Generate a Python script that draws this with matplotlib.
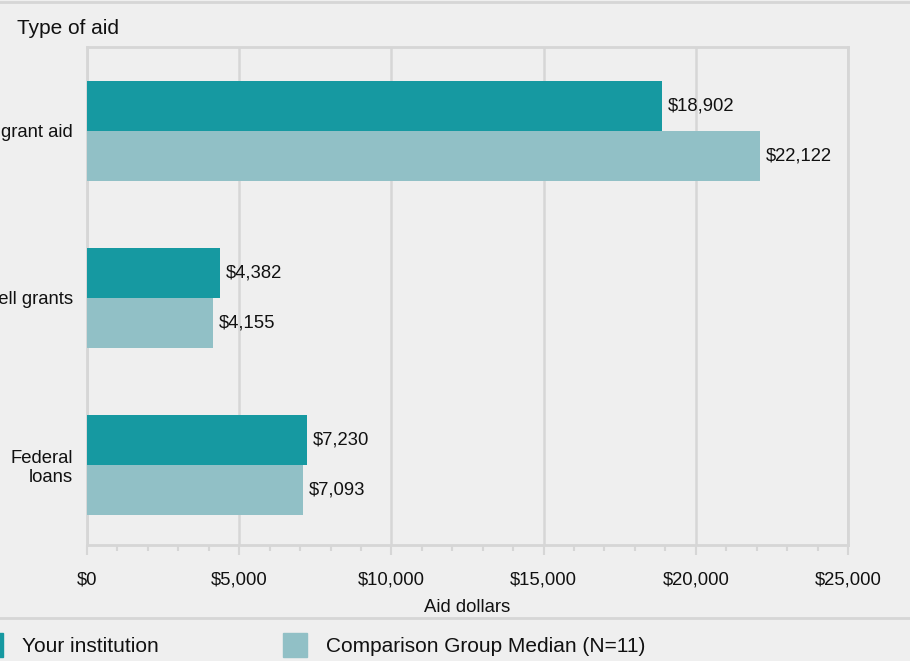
import matplotlib
matplotlib.use("Agg")
import matplotlib.pyplot as plt
import numpy as np
from matplotlib.patches import Rectangle
from matplotlib.ticker import FuncFormatter, MultipleLocator

plt.rcParams["font.family"] = ["Liberation Sans", "DejaVu Sans"]

# data
categories = ["Any grant aid", "Pell grants", "Federal\nloans"]
your_institution = [18902, 4382, 7230]
comparison_median = [22122, 4155, 7093]
series_names = ["Your institution", "Comparison Group Median (N=11)"]

BG = "#efefef"
TEAL = "#1699a1"
LIGHT = "#91c0c6"
GRID = "#d6d6d6"
TEXT = "#111111"

W, H = 910, 661
fig = plt.figure(figsize=(W / 100, H / 100), dpi=100, facecolor=BG)

# plot area in pixels: x 87..848, y 47..545
ax = fig.add_axes([87 / W, 1 - 545 / H, (848 - 87) / W, (545 - 47) / H])
ax.set_facecolor(BG)

y = np.arange(len(categories))
bar_h = 0.30
ax.barh(y - bar_h / 2, your_institution, height=bar_h, color=TEAL, zorder=3)
ax.barh(y + bar_h / 2, comparison_median, height=bar_h, color=LIGHT, zorder=3)

for yi, v in zip(y - bar_h / 2, your_institution):
    ax.annotate(f"${v:,}", (v, yi), xytext=(4, 0), textcoords="offset points",
                va="center", ha="left", fontsize=13.3, color=TEXT)
for yi, v in zip(y + bar_h / 2, comparison_median):
    ax.annotate(f"${v:,}", (v, yi), xytext=(4, 0), textcoords="offset points",
                va="center", ha="left", fontsize=13.3, color=TEXT)

ax.set_xlim(0, 25000)
ax.set_ylim(2.48, -0.503)
ax.xaxis.set_major_locator(MultipleLocator(5000))
ax.xaxis.set_minor_locator(MultipleLocator(1000))
ax.xaxis.set_major_formatter(FuncFormatter(lambda v, p: f"${v:,.0f}"))
ax.tick_params(axis="x", which="major", length=7, width=1.5, color=GRID,
               labelsize=13.3, labelcolor=TEXT, pad=12)
ax.tick_params(axis="x", which="minor", length=4, width=1.5, color=GRID)
ax.set_yticks(y)
ax.set_yticklabels(categories)
ax.tick_params(axis="y", length=0, labelsize=13.3, labelcolor=TEXT, pad=10)
for lbl in ax.get_yticklabels():
    lbl.set_multialignment("right")

ax.grid(axis="x", which="major", color=GRID, linewidth=1.8, zorder=0)
for side in ["left", "right", "top", "bottom"]:
    ax.spines[side].set_color(GRID)
    ax.spines[side].set_linewidth(2)

ax.set_xlabel("Aid dollars", fontsize=13.3, color=TEXT, labelpad=8)

fig.text(17 / W, 1 - 29 / H, "Type of aid", fontsize=15, color=TEXT,
         ha="left", va="center")

# separator lines
fig.add_artist(plt.Line2D([0, 1], [1 - 2 / H, 1 - 2 / H], color=GRID, lw=2))
fig.add_artist(plt.Line2D([0, 1], [1 - 618 / H, 1 - 618 / H], color=GRID, lw=2))

# legend drawn by hand so the first swatch clips at the left edge
leg_y = 1 - 647 / H
for x0, col, name, tx in [(-21, TEAL, series_names[0], 22),
                          (283, LIGHT, series_names[1], 326)]:
    fig.add_artist(Rectangle((x0 / W, 1 - 657 / H), 24 / W, 24 / H,
                             transform=fig.transFigure, color=col))
    fig.text(tx / W, leg_y, name, fontsize=15, color=TEXT, ha="left", va="center")

fig.savefig("out.png", dpi=100, facecolor=BG)
